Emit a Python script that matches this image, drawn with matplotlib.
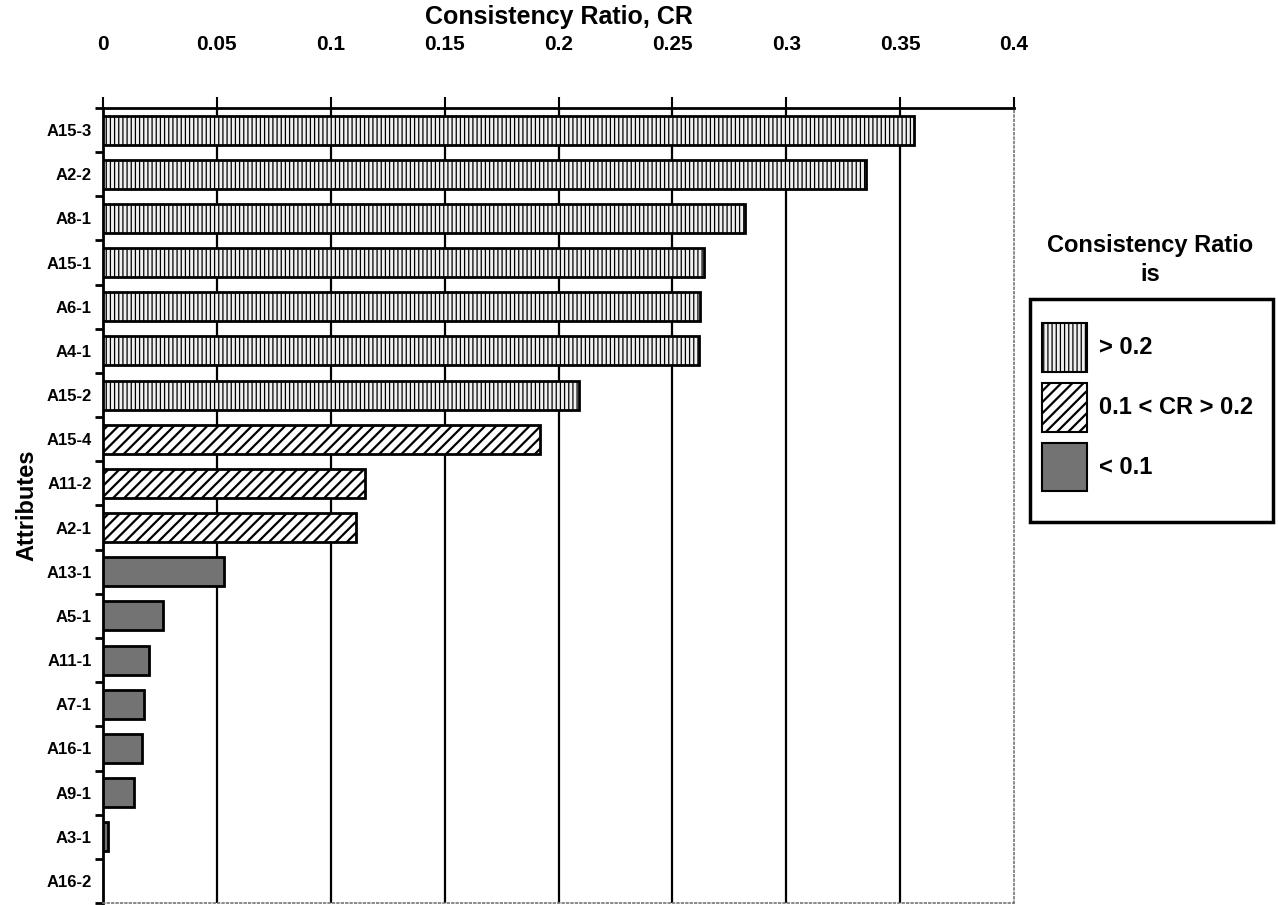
import matplotlib.pyplot as plt
import numpy as np
from matplotlib.patches import Patch, Rectangle

attributes = ["A15-3", "A2-2", "A8-1", "A15-1", "A6-1", "A4-1", "A15-2", "A15-4",
              "A11-2", "A2-1", "A13-1", "A5-1", "A11-1", "A7-1", "A16-1", "A9-1",
              "A3-1", "A16-2"]
cr_values = [0.356, 0.335, 0.282, 0.264, 0.262, 0.2615, 0.209, 0.192,
             0.115, 0.111, 0.053, 0.0265, 0.020, 0.018, 0.017, 0.0135,
             0.002, 0.0]
x_ticks = [0, 0.05, 0.1, 0.15, 0.2, 0.25, 0.3, 0.35, 0.4]
x_tick_labels = ["0", "0.05", "0.1", "0.15", "0.2", "0.25", "0.3", "0.35", "0.4"]
legend_labels = ["> 0.2", "0.1 < CR > 0.2", "< 0.1"]

FONT = "Liberation Sans"
W, H = 1278, 905


def style_for(v):
    # fill + hatch, and the hatch line width for that group
    if v > 0.2:
        return dict(facecolor="#f0f0f0", hatch="||||"), 0.9
    if v > 0.1:
        return dict(facecolor="white", hatch="///"), 1.6
    return dict(facecolor="#737373", hatch=None), 1.0


fig = plt.figure(figsize=(W / 100, H / 100), dpi=100)
ax = fig.add_axes([103 / W, 1 - 903 / H, (1014 - 103) / W, (903 - 108) / H])

y = np.arange(len(attributes))
for yi, v in zip(y, cr_values):
    if v <= 0:
        continue
    kw, hlw = style_for(v)
    with plt.rc_context({"hatch.linewidth": hlw}):
        ax.barh(yi, v, height=0.66, edgecolor="black", linewidth=2, zorder=3, **kw)

ax.set_ylim(len(attributes) - 0.5, -0.5)
ax.set_xlim(0, 0.4)
ax.xaxis.tick_top()
ax.xaxis.set_label_position("top")
ax.set_xticks(x_ticks)
ax.set_xticklabels(x_tick_labels, fontfamily=FONT, fontweight="bold", fontsize=15)
ax.tick_params(axis="x", direction="out", length=8, width=1.5, pad=31)
for x in x_ticks[1:-1]:
    ax.axvline(x, color="black", linewidth=1.6, zorder=1)

ax.set_yticks(y)
ax.set_yticklabels(attributes, fontfamily=FONT, fontweight="bold", fontsize=12)
ax.set_yticks(np.arange(len(attributes) + 1) - 0.5, minor=True)
ax.tick_params(axis="y", which="major", length=0, pad=8)
ax.tick_params(axis="y", which="minor", direction="out", length=6, width=2)

ax.set_xlabel("Consistency Ratio, CR", fontfamily=FONT, fontweight="bold",
              fontsize=18, labelpad=8)
ax.set_ylabel("Attributes", fontfamily=FONT, fontweight="bold",
              fontsize=17, labelpad=6)

ax.spines["top"].set_linewidth(2)
ax.spines["left"].set_linewidth(2)
for s in ("right", "bottom"):
    ax.spines[s].set_linestyle(":")
    ax.spines[s].set_color("#777777")
    ax.spines[s].set_linewidth(1.2)

# legend: entries without frame, box drawn separately
handles = [Patch(edgecolor="black", linewidth=1.5, **style_for(v)[0]) for v in (0.3, 0.15, 0.05)]
leg = fig.legend(handles, legend_labels, loc="upper left",
                 bbox_to_anchor=(1042 / W, 1 - 323 / H),
                 prop=dict(family=FONT, weight="bold", size=17),
                 handlelength=1.9, handleheight=2.8, handletextpad=0.5,
                 labelspacing=0.47, borderpad=0, borderaxespad=0,
                 frameon=False)
for h, v in zip(leg.legend_handles, (0.3, 0.15, 0.05)):
    if hasattr(h, "set_hatch_linewidth"):
        h.set_hatch_linewidth(style_for(v)[1])
fig.patches.append(Rectangle((1030 / W, 1 - 522 / H), 243 / W, 223 / H,
                             transform=fig.transFigure, fill=False,
                             edgecolor="black", linewidth=2.5))
fig.text(1150 / W, 1 - 260 / H, "Consistency Ratio\nis", ha="center", va="center",
         fontfamily=FONT, fontweight="bold", fontsize=17, linespacing=1.3)

fig.savefig("out.png", dpi=100)
